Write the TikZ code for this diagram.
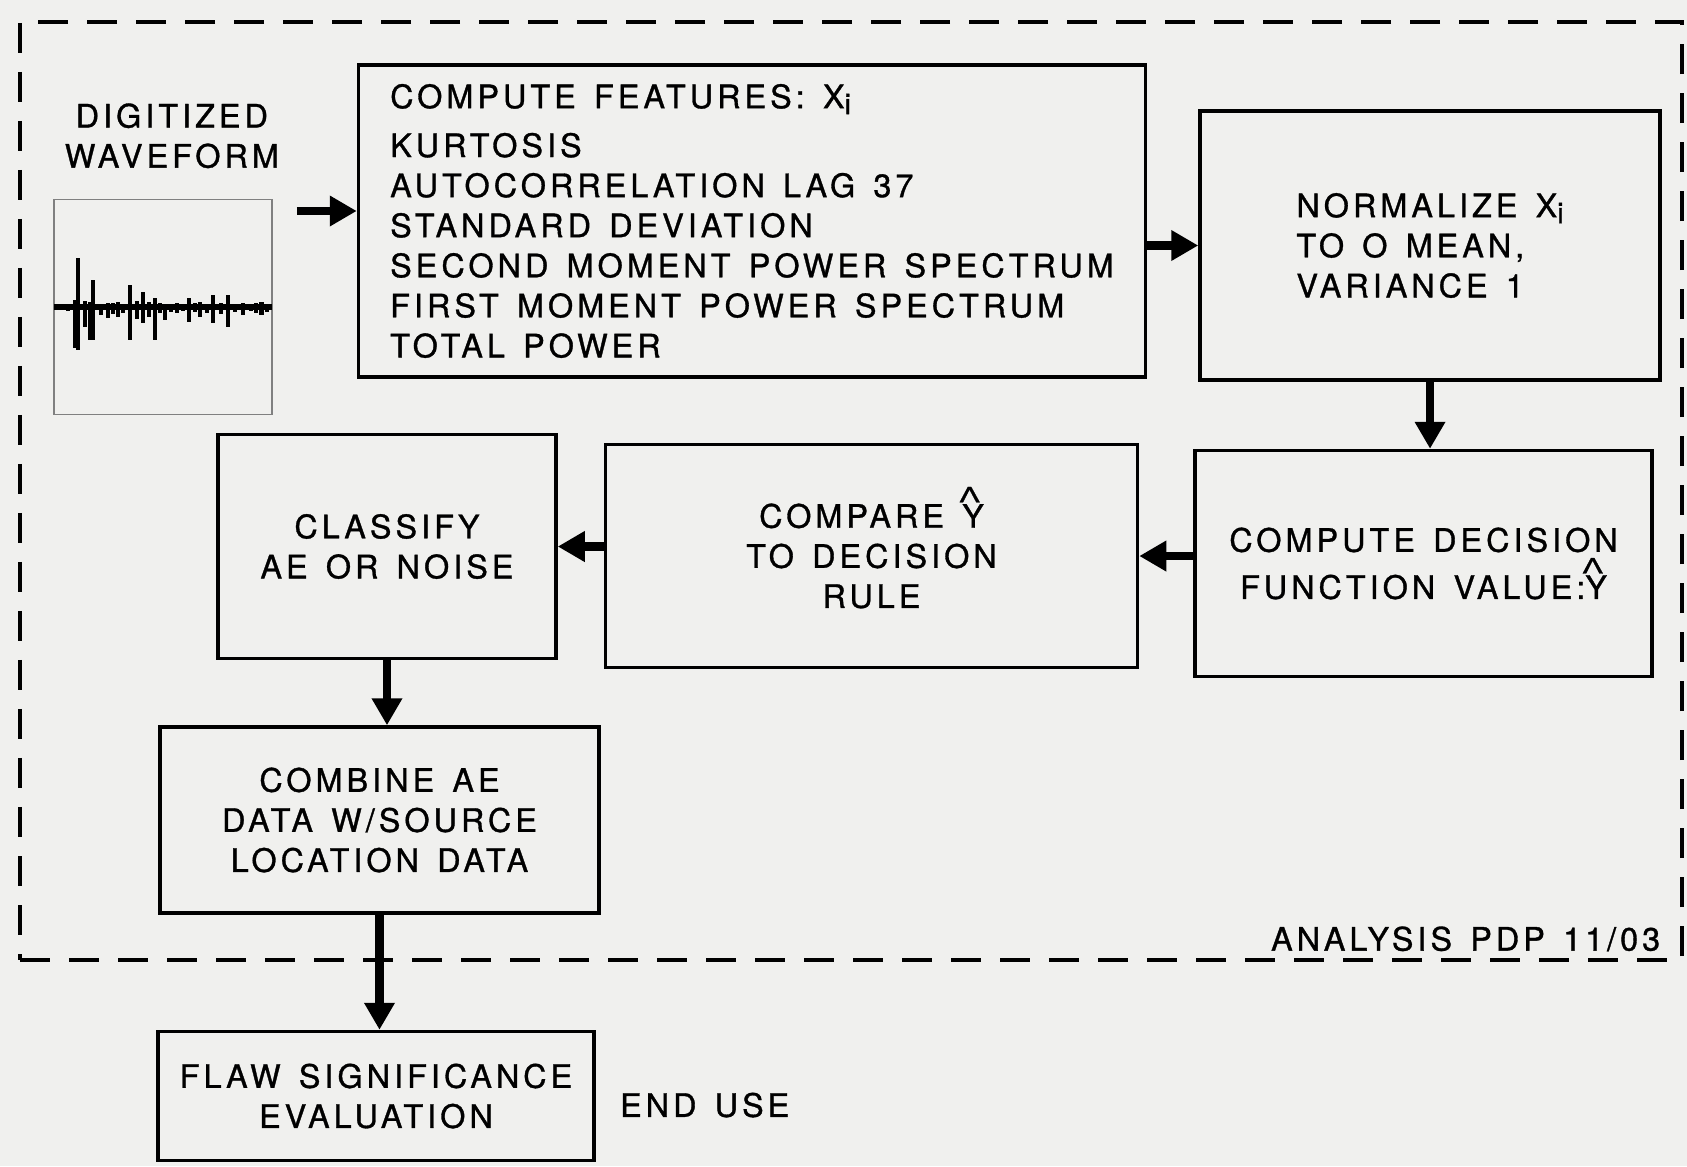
\documentclass[tikz,border=0pt]{standalone}
\usepackage{fontspec}
\setmainfont{TeX Gyre Heros}[LetterSpace=12.5, WordSpace=1.4, FakeBold=1]
\usepackage{xcolor}
\usepackage{tikz}
\usetikzlibrary{arrows.meta,positioning,calc}

\definecolor{paper}{RGB}{240,240,238}
% Y with a loose hat above it; the hat does not change the line height
\newcommand{\yhat}{\leavevmode\rlap{\hspace{-0.1em}\raisebox{11.6pt}[0pt][0pt]{\scalebox{1}[0.65]{\rotatebox{180}{V}}}}Y}
\newcommand{\xsub}{X\raisebox{-0.35ex}{\fontsize{8.2}{8}\selectfont i}}

\begin{document}
\begin{tikzpicture}[node distance=0.5cm,
    >={Triangle[length=2.7mm, width=2.9mm]},
    every node/.style={font=\fontsize{9.2}{11.4}\selectfont},
    block/.style={rectangle, draw, line width=1pt, align=center},
    flow/.style={->, line width=2.3pt}]
    % paper, also fixes the page size
    \fill [paper] (0,0) rectangle (16.87,-11.66);
    \useasboundingbox (0,0) rectangle (16.87,-11.66);

    % dashed frame round the work done on the PDP 11/03
    \node (pdp) [rectangle, draw, line width=0.9pt, dash pattern=on 3mm off 1.9mm, minimum width=16.62cm, minimum height=9.38cm] at (8.51,-4.91) {};
    \node (host) [anchor=base east] at ([xshift=-0.11cm, yshift=0.11cm]pdp.south east) {ANALYSIS PDP 11/03};

    \node (feat) [block, align=left, minimum width=7.87cm, minimum height=3.12cm] at (7.52,-2.21)
        {COMPUTE FEATURES: \xsub\\[2.5pt]
         KURTOSIS\\
         AUTOCORRELATION LAG 37\\
         STANDARD DEVIATION\\
         SECOND MOMENT POWER SPECTRUM\\
         FIRST MOMENT POWER SPECTRUM\\
         TOTAL POWER};
    \node (wave) [rectangle, draw=gray, line width=0.5pt, minimum width=2.18cm, minimum height=2.15cm, left=0.84cm of feat, yshift=-0.86cm] {};
    \node (wavetitle) [above=0.18cm of wave, xshift=0.09cm, align=center] {DIGITIZED\\ WAVEFORM};
    \node (norm) [block, align=left, minimum width=4.6cm, minimum height=2.69cm, right=0.51cm of feat, yshift=-0.245cm]
        {NORMALIZE \xsub\\ TO O MEAN,\\ VARIANCE 1};
    \node (dec) [block, minimum width=4.57cm, minimum height=2.26cm, below=0.67cm of norm, xshift=-0.065cm]
        {COMPUTE DECISION\\[2pt] FUNCTION VALUE:\yhat};
    \node (comp) [block, minimum width=5.32cm, minimum height=2.23cm, left=0.54cm of dec, yshift=0.075cm]
        {COMPARE \yhat\\ TO DECISION\\ RULE};
    \node (cls) [block, minimum width=3.38cm, minimum height=2.24cm, left=0.46cm of comp, yshift=0.095cm]
        {CLASSIFY\\ AE OR NOISE};
    \node (comb) [block, minimum width=4.39cm, minimum height=1.86cm, below=0.65cm of cls, xshift=-0.075cm]
        {COMBINE AE\\ DATA W/SOURCE\\ LOCATION DATA};
    \node (flaw) [block, minimum width=4.36cm, minimum height=1.29cm, below=1.15cm of comb, xshift=-0.035cm]
        {FLAW SIGNIFICANCE\\ EVALUATION};
    \node (enduse) [right=0.12cm of flaw, yshift=-0.09cm] {END USE};

    % sampled AE burst inside the waveform box
    \begin{scope}[shift={(wave.center)}]
        \draw [line width=1.8pt] (-1.09,0) -- (1.09,0);
        \foreach \x/\t/\b in {-0.88/0.07/-0.41, -0.847/0.49/-0.43, -0.73/0.05/-0.33, -0.697/0.27/-0.33,
                              -0.547/0.04/-0.11, -0.447/0.05/-0.10, -0.33/0.22/-0.33, -0.197/0.15/-0.16,
                              -0.08/0.09/-0.33, 0.02/0.03/-0.13, 0.263/0.09/-0.15, 0.37/0.05/-0.10,
                              0.503/0.12/-0.16, 0.653/0.12/-0.20, 0.803/0.04/-0.08, 0.987/0.05/-0.08}
            \draw [line width=1.3pt] (\x,\t) -- (\x,\b);
        \foreach \x/\t/\b in {-1.0/0.02/-0.03, -0.95/0.03/-0.04, -0.78/0.06/-0.2, -0.62/0.03/-0.08,
                              -0.5/0.04/-0.07, -0.4/0.03/-0.06, -0.26/0.06/-0.12, -0.14/0.05/-0.1,
                              -0.03/0.04/-0.06, 0.08/0.02/-0.05, 0.14/0.04/-0.06, 0.2/0.03/-0.04,
                              0.32/0.04/-0.05, 0.44/0.03/-0.06, 0.58/0.04/-0.07, 0.72/0.03/-0.05,
                              0.88/0.02/-0.04, 0.93/0.04/-0.06, 1.04/0.03/-0.05}
            \draw [line width=1pt] (\x,\t) -- (\x,\b);
    \end{scope}

    \draw [flow, shorten <=2.4mm] ([yshift=1mm]feat.west -| wave.east) -- ([yshift=1mm]feat.west);
    \draw [flow] (feat.east |- norm.west) -- (norm.west);
    \draw [flow] (norm.south) -- (norm.south |- dec.north);
    \draw [flow] (dec.west |- comp.east) -- (comp.east);
    \draw [flow] (comp.west |- cls.east) -- (cls.east);
    \draw [flow] (cls.south) -- (cls.south |- comb.north);
    \draw [flow] (comb.south) -- (comb.south |- flaw.north);
\end{tikzpicture}
\end{document}
